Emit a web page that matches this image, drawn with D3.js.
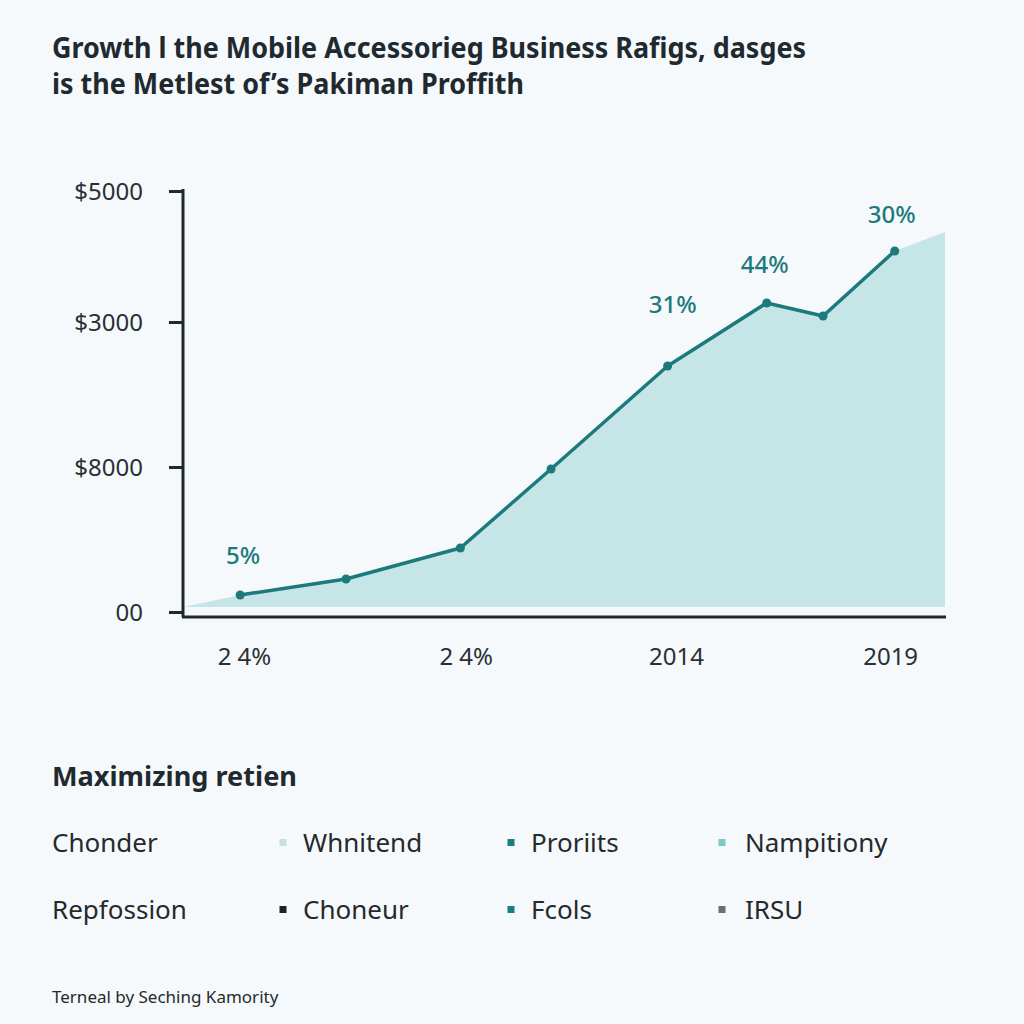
<!DOCTYPE html>
<html><head><meta charset="utf-8">
<script src="https://cdn.jsdelivr.net/npm/d3@7"></script>
<style>html,body{margin:0;padding:0;background:#f5f9fb;}svg{display:block;}</style>
</head><body>
<script>
const titleLines = ["Growth l the Mobile Accessorieg Business Rafigs, dasges", "is the Metlest of\u2019s Pakiman Proffith"];
// line points: position along x (0-100 index scale) and value
const pointX = [7.5, 21.4, 36.4, 48.3, 63.6, 76.6, 84.0, 93.4];
const pointValues = [202, 392, 760, 1698, 2922, 3670, 3515, 4287];
// shaded area extends beyond the line
const areaX = [0, 7.5, 21.4, 36.4, 48.3, 63.6, 76.6, 84.0, 93.4, 100];
const areaValues = [59, 202, 392, 760, 1698, 2922, 3670, 3515, 4287, 4513];
const yTickValues = [0, 1722, 3444, 5000];
const yTickLabels = ["00", "$8000", "$3000", "$5000"];
const xTickValues = [8.0, 37.1, 64.7, 92.8];
const xTickLabels = ["2 4%", "2 4%", "2014", "2019"];
const pctLabels = [{i:0, t:"5%"}, {i:4, t:"31%"}, {i:5, t:"44%"}, {i:7, t:"30%"}];
const legendTitle = "Maximizing retien";
const legendRow1 = ["Chonder", "Whnitend", "Proriits", "Nampitiony"];
const legendRow2 = ["Repfossion", "Choneur", "Fcols", "IRSU"];
const legendColors1 = [null, "#c9dedf", "#1a7f80", "#7fc7c7"];
const legendColors2 = [null, "#1f2326", "#1a7f80", "#6b6f72"];
const footer = "Terneal by Seching Kamority";

const W = 1024, H = 1024;
const svg = d3.select("body").append("svg").attr("width", W).attr("height", H);
svg.append("rect").attr("width", W).attr("height", H).attr("fill", "#f5f9fb");

const font = "'Noto Sans', 'Open Sans', sans-serif";
const dark = "#1f2a30";
const teal = "#1c7a7c";

// title
svg.append("g").selectAll("text").data(titleLines).join("text")
  .attr("x", 52).attr("y", (d,i) => 58 + i*36)
  .attr("font-family", font).attr("font-weight", 700).attr("font-size", 29)
  .attr("fill", dark)
  .attr("textLength", (d,i) => i === 0 ? 754 : 472).attr("lengthAdjust", "spacingAndGlyphs")
  .text(d => d);

const x = d3.scaleLinear().domain([0, 100]).range([183, 945]);
const y = d3.scaleLinear().domain([0, 5000]).range([612, 191]);

// area
const area = d3.area().x((d,i) => x(areaX[i])).y0(y(59)).y1(d => y(d));
svg.append("path").datum(areaValues).attr("d", area).attr("fill", "#c6e5e6");

// axes
const yAxis = d3.axisLeft(y).tickValues(yTickValues).tickFormat((d,i) => yTickLabels[i]).tickSize(14).tickPadding(26);
const gy = svg.append("g").attr("transform", "translate(183,0)").call(yAxis);
gy.select(".domain").attr("d", "M0,189V617").attr("stroke", dark).attr("stroke-width", 3);
gy.selectAll(".tick line").attr("stroke", dark).attr("stroke-width", 3);
gy.selectAll(".tick text").attr("font-family", font).attr("font-size", 24).attr("fill", "#2a2f33").attr("dy", "0.35em");

const xAxis = d3.axisBottom(x).tickValues(xTickValues).tickFormat((d,i) => xTickLabels[i]).tickSize(0).tickPadding(31);
const gx = svg.append("g").attr("transform", "translate(0,617)").call(xAxis);
gx.select(".domain").attr("d", "M182,0H946").attr("stroke", dark).attr("stroke-width", 3);
gx.selectAll(".tick text").attr("font-family", font).attr("font-size", 24).attr("fill", "#2a2f33");

// line
const line = d3.line().x((d,i) => x(pointX[i])).y(d => y(d));
svg.append("path").datum(pointValues).attr("d", line).attr("fill", "none")
  .attr("stroke", teal).attr("stroke-width", 3.5).attr("stroke-linejoin", "round");
svg.append("g").selectAll("circle").data(pointValues).join("circle")
  .attr("cx", (d,i) => x(pointX[i])).attr("cy", d => y(d)).attr("r", 4.5).attr("fill", teal);

// percent labels
svg.append("g").selectAll("text").data(pctLabels).join("text")
  .attr("x", d => x(pointX[d.i]) + (d.i === 0 ? 3 : d.i === 4 ? 5 : d.i === 5 ? -2 : -3))
  .attr("y", d => y(pointValues[d.i]) - (d.i === 0 ? 31 : d.i === 4 ? 53 : d.i === 5 ? 30 : 28))
  .attr("text-anchor", "middle").attr("font-family", font).attr("font-weight", 500)
  .attr("font-size", 24).attr("fill", teal).text(d => d.t);

// legend
svg.append("text").attr("x", 52).attr("y", 786).attr("font-family", font).attr("font-weight", 700)
  .attr("font-size", 26).attr("fill", dark).attr("textLength", 245).attr("lengthAdjust", "spacingAndGlyphs").text(legendTitle);

const colText = [52, 303, 531, 745];
const colMark = [0, 283, 511, 722];
[[legendRow1, legendColors1, 852], [legendRow2, legendColors2, 919]].forEach(([labels, colors, yy]) => {
  const g = svg.append("g");
  g.selectAll("text").data(labels).join("text")
    .attr("x", (d,i) => colText[i]).attr("y", yy)
    .attr("font-family", font).attr("font-size", 26).attr("fill", "#26292c").text(d => d);
  g.selectAll("rect").data(colors.map((c,i) => ({c, i})).filter(d => d.c)).join("rect")
    .attr("x", d => colMark[d.i] - 3.5).attr("y", yy - 13).attr("width", 7).attr("height", 7).attr("fill", d => d.c);
});

svg.append("text").attr("x", 52).attr("y", 1003).attr("font-family", font).attr("font-size", 17)
  .attr("fill", "#26292c").text(footer);
</script>
</body></html>
